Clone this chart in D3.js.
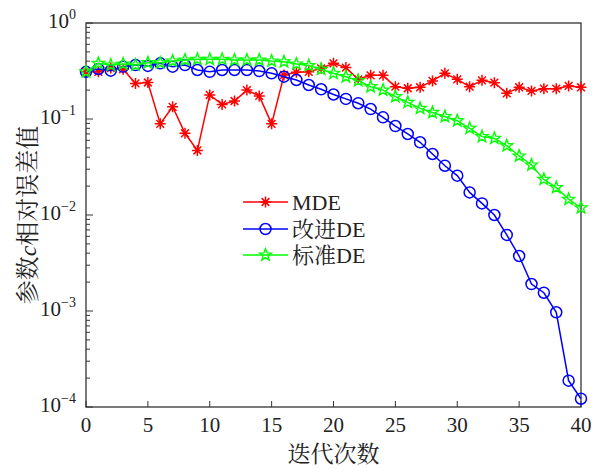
<!DOCTYPE html>
<html>
<head>
<meta charset="utf-8">
<script src="https://cdn.jsdelivr.net/npm/d3@7"></script>
<style>
  html, body { margin: 0; padding: 0; background: #fff; }
  svg { display: block; }
</style>
</head>
<body>
<svg id="chart" width="595" height="472"></svg>
<script>
// Iteration index 0..40
const iterations = d3.range(0, 41);

// Relative error of parameter c for each method
const mdeValues = [0.31, 0.31, 0.34, 0.33, 0.235, 0.24, 0.089, 0.134, 0.071, 0.047,
  0.178, 0.142, 0.154, 0.20, 0.174, 0.089, 0.287, 0.306, 0.31, 0.337,
  0.38, 0.343, 0.259, 0.285, 0.285, 0.217, 0.209, 0.214, 0.249, 0.299,
  0.259, 0.217, 0.253, 0.239, 0.185, 0.214, 0.196, 0.207, 0.207, 0.221, 0.214];

const improvedValues = [0.31, 0.332, 0.319, 0.351, 0.365, 0.357, 0.38, 0.351, 0.365, 0.324,
  0.31, 0.324, 0.324, 0.324, 0.316, 0.299, 0.276, 0.255, 0.226, 0.204,
  0.18, 0.162, 0.146, 0.127, 0.104, 0.0845, 0.0698, 0.0572, 0.0432, 0.0326,
  0.0257, 0.0172, 0.0132, 0.0100, 0.0062, 0.00374, 0.00191, 0.00155, 0.00097, 0.000188, 0.000122];

const standardValues = [0.31, 0.38, 0.365, 0.374, 0.365, 0.386, 0.386, 0.402, 0.412, 0.419,
  0.419, 0.419, 0.412, 0.412, 0.412, 0.402, 0.395, 0.374, 0.36, 0.329,
  0.299, 0.276, 0.251, 0.217, 0.20, 0.171, 0.149, 0.129, 0.117, 0.106,
  0.096, 0.080, 0.0655, 0.063, 0.0527, 0.0412, 0.0332, 0.0235, 0.0193, 0.0146, 0.0119];

const seriesNames = ["MDE", "改进DE", "标准DE"];
const xTickValues = [0, 5, 10, 15, 20, 25, 30, 35, 40];
const yTickExponents = [0, -1, -2, -3, -4];
const xTitle = "迭代次数";

const latin = "'Liberation Serif', 'Times New Roman', serif";
const cjk = "'Liberation Serif', 'Noto Serif CJK SC', 'Noto Sans CJK SC', serif";

const svg = d3.select("#chart");
const plot = { left: 86, right: 581, top: 23, bottom: 407 };

const x = d3.scaleLinear().domain([0, 40]).range([plot.left, plot.right]);
const y = d3.scaleLog().domain([1e-4, 1]).range([plot.bottom, plot.top]);

const axisColor = "#333";

// Minor and major ticks on the log axis (inward)
const yMinor = [];
for (let e = -4; e < 0; e++) {
  for (let m = 2; m <= 9; m++) yMinor.push(m * Math.pow(10, e));
}
svg.append("g").selectAll("line").data(yMinor).join("line")
  .attr("x1", plot.left).attr("x2", plot.left + 4)
  .attr("y1", d => y(d)).attr("y2", d => y(d))
  .attr("stroke", axisColor).attr("stroke-width", 1);
svg.append("g").selectAll("line").data(yTickExponents).join("line")
  .attr("x1", plot.left).attr("x2", plot.left + 7)
  .attr("y1", d => y(Math.pow(10, d))).attr("y2", d => y(Math.pow(10, d)))
  .attr("stroke", axisColor).attr("stroke-width", 1);

// X ticks (inward)
svg.append("g").selectAll("line").data(xTickValues).join("line")
  .attr("x1", d => x(d)).attr("x2", d => x(d))
  .attr("y1", plot.bottom).attr("y2", plot.bottom - 6)
  .attr("stroke", axisColor).attr("stroke-width", 1);

// Frame
svg.append("rect")
  .attr("x", plot.left).attr("y", plot.top)
  .attr("width", plot.right - plot.left).attr("height", plot.bottom - plot.top)
  .attr("fill", "none").attr("stroke", axisColor).attr("stroke-width", 1.3);

// X tick labels
svg.append("g").selectAll("text").data(xTickValues).join("text")
  .attr("x", d => x(d)).attr("y", plot.bottom + 25)
  .attr("text-anchor", "middle")
  .attr("font-family", latin).attr("font-size", 21).attr("fill", "#222")
  .text(d => d);

// Y tick labels: 10 with superscript exponent
const yLabels = svg.append("g").selectAll("text").data(yTickExponents).join("text")
  .attr("x", plot.left - 10).attr("y", d => y(Math.pow(10, d)) + 5)
  .attr("text-anchor", "end")
  .attr("font-family", latin).attr("font-size", 21).attr("fill", "#222");
yLabels.append("tspan").text("10");
yLabels.append("tspan").attr("dy", -9).attr("font-size", 14)
  .text(d => d === 0 ? "0" : "\u2212" + Math.abs(d));

// Axis titles
svg.append("text")
  .attr("x", (plot.left + plot.right) / 2).attr("y", 462)
  .attr("text-anchor", "middle")
  .attr("font-family", cjk).attr("font-size", 23).attr("fill", "#222")
  .text(xTitle);

const yTitle = svg.append("text")
  .attr("transform", `translate(36, ${(plot.top + plot.bottom) / 2}) rotate(-90)`)
  .attr("text-anchor", "middle")
  .attr("font-family", cjk).attr("font-size", 24).attr("fill", "#222");
yTitle.append("tspan").text("参数");
yTitle.append("tspan").attr("font-style", "italic").attr("font-family", latin).text("c");
yTitle.append("tspan").text("相对误差值");

// Marker shapes
function asteriskPath(r) {
  const p = [];
  for (let i = 0; i < 4; i++) {
    const a = i * Math.PI / 4;
    p.push(`M${-r * Math.cos(a)},${-r * Math.sin(a)}L${r * Math.cos(a)},${r * Math.sin(a)}`);
  }
  return p.join("");
}
function starPath(R) {
  const r = R * 0.42;
  const pts = [];
  for (let i = 0; i < 10; i++) {
    const rad = i % 2 === 0 ? R : r;
    const a = -Math.PI / 2 + i * Math.PI / 5;
    pts.push([rad * Math.cos(a), rad * Math.sin(a)]);
  }
  return "M" + pts.map(p => p.join(",")).join("L") + "Z";
}

const series = [
  { name: seriesNames[0], values: mdeValues, color: "#ff0000", marker: "asterisk" },
  { name: seriesNames[1], values: improvedValues, color: "#0000ff", marker: "circle" },
  { name: seriesNames[2], values: standardValues, color: "#00ff00", marker: "star" }
];

function drawMarker(g, type, color) {
  if (type === "circle") {
    g.append("circle").attr("r", 5.5).attr("fill", "none")
      .attr("stroke", color).attr("stroke-width", 1.5);
  } else if (type === "star") {
    g.append("path").attr("d", starPath(6.3)).attr("fill", "none")
      .attr("stroke", color).attr("stroke-width", 1.4);
  } else {
    g.append("path").attr("d", asteriskPath(5.5)).attr("fill", "none")
      .attr("stroke", color).attr("stroke-width", 1.5);
  }
}

const line = d3.line().x((d, i) => x(iterations[i])).y(d => y(d));

series.forEach(s => {
  const g = svg.append("g");
  g.append("path").datum(s.values).attr("d", line)
    .attr("fill", "none").attr("stroke", s.color).attr("stroke-width", 1.5);
  s.values.forEach((v, i) => {
    const m = g.append("g").attr("transform", `translate(${x(iterations[i])},${y(v)})`);
    drawMarker(m, s.marker, s.color);
  });
});

// Legend
const legend = svg.append("g");
const legendRows = [202, 229, 255];
series.forEach((s, i) => {
  const ly = legendRows[i];
  legend.append("line").attr("x1", 243).attr("x2", 288).attr("y1", ly).attr("y2", ly)
    .attr("stroke", s.color).attr("stroke-width", 1.5);
  const m = legend.append("g").attr("transform", `translate(265.5,${ly})`);
  drawMarker(m, s.marker, s.color);
  legend.append("text").attr("x", 292).attr("y", ly + 7.5)
    .attr("font-family", cjk).attr("font-size", 22).attr("fill", "#222")
    .text(s.name);
});
</script>
</body>
</html>
